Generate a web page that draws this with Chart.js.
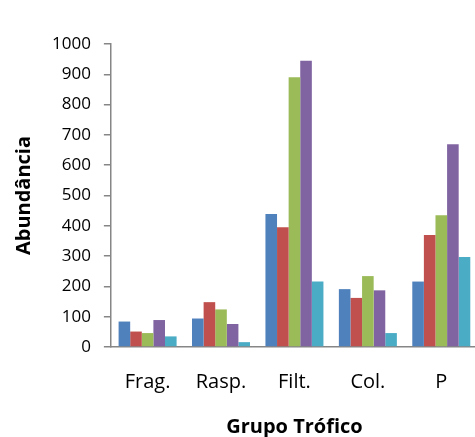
<!DOCTYPE html>
<html>
<head>
<meta charset="utf-8">
<script src="https://cdn.jsdelivr.net/npm/chart.js@4/dist/chart.umd.min.js"></script>
<style>
  html, body { margin: 0; padding: 0; background: #fff; overflow: hidden; }
  #wrap { width: 475px; height: 437px; overflow: hidden; }
</style>
</head>
<body>
<div id="wrap"><canvas id="myChart" width="478" height="437"></canvas></div>
<script>
var categories = ['Frag.', 'Rasp.', 'Filt.', 'Col.', 'P'];
var serie1 = [84, 94, 439, 191, 216];
var serie2 = [51, 148, 395, 162, 370];
var serie3 = [46, 124, 890, 234, 435];
var serie4 = [89, 76, 945, 187, 669];
var serie5 = [35, 16, 216, 46, 297];
var colors = ['#4F81BD', '#C0504D', '#9BBB59', '#8064A2', '#4BACC6'];

var ctx = document.getElementById('myChart');
var series = [serie1, serie2, serie3, serie4, serie5];
var datasets = [];
for (let i = 0; i < series.length; i++) {
  datasets.push({
    label: 'Série ' + (i + 1),
    data: series[i],
    backgroundColor: colors[i],
    borderWidth: 0
  });
}

var chart = new Chart(ctx, {
  type: 'bar',
  data: { labels: categories, datasets: datasets },
  options: {
    responsive: false,
    animation: false,
    layout: { padding: { top: 44, left: 12, right: 0, bottom: 0 } },
    plugins: { legend: { display: false }, tooltip: { enabled: false } },
    datasets: { bar: { categoryPercentage: 0.79, barPercentage: 1.0 } },
    scales: {
      x: {
        grid: { display: false, drawTicks: false },
        border: { display: true, color: '#868686', width: 1.5 },
        ticks: { color: '#000', font: { family: 'Open Sans', size: 20 }, padding: 23 },
        title: {
          display: true, text: 'Grupo Trófico', color: '#000',
          font: { family: 'Open Sans', size: 20, weight: 'bold', lineHeight: 1.0 },
          padding: { top: 0, bottom: 0 }
        }
      },
      y: {
        min: 0, max: 1000,
        grid: { drawOnChartArea: false, drawTicks: true, tickLength: 7, color: '#868686', lineWidth: 1.5 },
        border: { display: true, color: '#868686', width: 1.5 },
        ticks: {
          stepSize: 100, color: '#000', font: { family: 'Open Sans', size: 17 }, padding: 13,
          callback: function(v) { return String(v); }
        },
        title: {
          display: true, text: 'Abundância', color: '#000',
          font: { family: 'Open Sans', size: 20, weight: 'bold' }, padding: { top: 0, bottom: 3 }
        }
      }
    }
  }
});
</script>
</body>
</html>
